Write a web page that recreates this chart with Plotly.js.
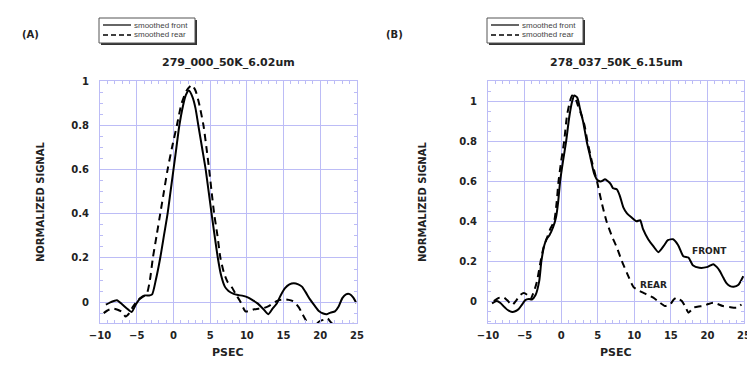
<!DOCTYPE html>
<html><head><meta charset="utf-8">
<script src="https://cdn.plot.ly/plotly-3.0.1.min.js"></script>
<style>html,body{margin:0;padding:0;background:#fff}#chart{width:747px;height:367px}</style>
</head><body><div id="chart"></div>
<script>
// Panel A: 279_000_50K_6.02um
const xA_front = [-9.2,-8.5,-7.7,-7.0,-6.3,-5.7,-5.1,-4.5,-3.9,-3.3,-2.9,-2.4,-1.8,-1.3,-0.8,-0.4,0,0.4,0.8,1.3,1.7,2.1,2.6,3.0,3.4,3.9,4.4,5.2,6.05,6.5,7.0,7.5,8.2,8.8,9.5,10.2,10.8,11.4,12.2,12.9,13.5,14.1,14.6,15.2,15.8,16.4,17.0,17.5,18.0,18.6,19.2,19.8,20.4,20.9,21.4,22.0,22.5,23.0,23.5,24.0,24.5,24.9];
const yA_front = [-0.012,0.0,0.008,-0.01,-0.03,-0.045,-0.01,0.018,0.03,0.03,0.035,0.1,0.2,0.3,0.4,0.5,0.6,0.7,0.8,0.89,0.94,0.96,0.93,0.88,0.8,0.7,0.6,0.4,0.2,0.12,0.07,0.05,0.037,0.032,0.028,0.02,0.008,-0.005,-0.03,-0.055,-0.03,-0.005,0.03,0.063,0.08,0.085,0.08,0.07,0.045,0.012,-0.015,-0.04,-0.052,-0.055,-0.048,-0.042,-0.02,0.018,0.035,0.036,0.02,-0.005];
const xA_rear = [-9.5,-8.8,-8.2,-7.6,-7.0,-6.5,-6.0,-5.5,-4.8,-4.1,-3.6,-3.2,-2.8,-2.3,-1.8,-1.3,-0.8,-0.2,0.46,1.1,1.8,2.5,3.0,3.5,4.1,4.5,4.87,5.2,5.55,6.0,6.4,6.9,7.4,8.0,8.5,9.1,9.8,10.4,10.9,11.6,12.3,12.9,13.6,14.1,14.6,15.2,15.7,16.2,16.6,17.1,17.5,18.0,18.5,19.0,19.5,19.9,20.5,21.0,21.4,22.0,23.0,24.0,24.8];
const yA_rear = [-0.05,-0.035,-0.03,-0.035,-0.045,-0.066,-0.05,-0.02,0.01,0.025,0.04,0.1,0.2,0.3,0.4,0.5,0.6,0.7,0.8,0.9,0.96,0.985,0.96,0.9,0.8,0.7,0.6,0.5,0.4,0.3,0.2,0.13,0.09,0.065,0.035,0.003,-0.042,-0.04,-0.034,-0.03,-0.027,-0.02,-0.005,0.005,0.01,0.012,0.01,0.005,-0.005,-0.025,-0.05,-0.08,-0.11,-0.12,-0.1,-0.087,-0.08,-0.075,-0.09,-0.11,-0.12,-0.11,-0.09];

// Panel B: 278_037_50K_6.15um
const xB_front = [-9.45,-8.8,-8.3,-7.9,-7.3,-6.7,-6.2,-5.8,-5.3,-4.9,-4.4,-4.0,-3.5,-3.0,-2.7,-2.3,-2.0,-1.6,-1.1,-0.7,-0.4,-0.14,0.25,0.68,1.1,1.5,1.8,2.2,2.6,3.0,3.5,4.0,4.5,5.0,5.5,6.0,6.4,6.8,7.1,7.6,8.0,8.5,9.0,9.6,10.3,10.8,11.2,11.9,12.6,13.3,14.0,14.6,15.3,16.0,16.7,17.4,18.0,18.9,19.9,20.8,21.3,21.7,22.2,22.6,23.1,23.6,24.2,24.9];
const yB_front = [-0.012,0.0,-0.01,-0.025,-0.045,-0.055,-0.05,-0.04,-0.015,0.005,0.01,0.008,0.03,0.1,0.2,0.28,0.31,0.33,0.37,0.42,0.5,0.6,0.7,0.8,0.92,1.0,1.03,1.02,0.96,0.9,0.8,0.72,0.64,0.605,0.6,0.61,0.6,0.585,0.565,0.56,0.53,0.47,0.44,0.42,0.4,0.405,0.36,0.31,0.275,0.245,0.275,0.305,0.31,0.28,0.225,0.218,0.18,0.167,0.17,0.185,0.17,0.15,0.115,0.09,0.075,0.072,0.08,0.125];
const xB_rear = [-9.2,-8.6,-7.9,-7.4,-6.7,-6.2,-5.6,-5.1,-4.6,-4.2,-3.7,-3.3,-2.8,-2.4,-2.0,-1.5,-0.95,-0.6,-0.36,0.0,0.41,0.8,1.2,1.5,1.9,2.3,2.8,3.2,3.6,4.2,4.9,5.5,6.2,7.0,7.6,8.3,9.0,9.6,9.9,10.5,11.2,11.9,12.6,13.4,14.2,14.9,15.4,15.8,16.2,16.5,17.0,17.4,17.8,18.1,18.8,19.4,20.1,20.8,21.4,22.1,23.0,24.0,24.65];
const yB_rear = [0.0,0.015,0.02,0.005,-0.02,0.0,0.03,0.04,0.03,0.01,0.05,0.1,0.2,0.27,0.31,0.36,0.4,0.5,0.6,0.7,0.8,0.93,1.0,1.03,1.02,0.98,0.93,0.88,0.8,0.7,0.6,0.5,0.4,0.32,0.27,0.2,0.14,0.09,0.07,0.055,0.042,0.03,0.017,-0.005,-0.025,-0.017,0.008,0.017,0.008,0.0,-0.03,-0.058,-0.045,-0.033,-0.027,-0.025,-0.015,-0.008,-0.015,-0.025,-0.03,-0.033,-0.017];

const titleA = '279_000_50K_6.02um';
const titleB = '278_037_50K_6.15um';
const seriesNames = ['smoothed front', 'smoothed rear'];
const xTickVals = [-10,-5,0,5,10,15,20,25];
const yTickVals = [0,0.2,0.4,0.6,0.8,1];
const yTickText = ['0','0.2','0.4','0.6','0.8','1'];

const W = 747, H = 367;
const px = v => v / W, py = v => 1 - v / H;
const FONT = 'DejaVu Sans';
const GRID = '#bcbcf6';

function line(dash){ return {color:'#000', width:2, dash:dash, shape:'spline', smoothing:0.6}; }
const traces = [
  {x:xA_front, y:yA_front, xaxis:'x', yaxis:'y', mode:'lines', name:seriesNames[0], line:line('solid'), showlegend:false, hoverinfo:'skip'},
  {x:xA_rear, y:yA_rear, xaxis:'x', yaxis:'y', mode:'lines', name:seriesNames[1], line:line('7px,5px'), showlegend:false, hoverinfo:'skip'},
  {x:xB_front, y:yB_front, xaxis:'x2', yaxis:'y2', mode:'lines', name:seriesNames[0], line:line('solid'), showlegend:false, hoverinfo:'skip'},
  {x:xB_rear, y:yB_rear, xaxis:'x2', yaxis:'y2', mode:'lines', name:seriesNames[1], line:line('7px,5px'), showlegend:false, hoverinfo:'skip'}
];

function xax(domain, anchor){
  return {domain:domain, anchor:anchor, range:[-10,25], tickvals:xTickVals, ticks:'inside', ticklen:5, tickcolor:GRID,
    showgrid:true, gridcolor:GRID, gridwidth:1, zeroline:false, showline:true, linecolor:GRID, linewidth:1, mirror:'allticks',
    minor:{dtick:1, ticks:'inside', ticklen:3, tickcolor:GRID, showgrid:false},
    ticklabeloverflow:'allow', ticklabelstandoff:3,
    tickfont:{family:FONT, size:10, color:'#222', weight:'bold'}, fixedrange:true};
}
function yax(domain, anchor, range){
  return {domain:domain, anchor:anchor, range:range, tickvals:yTickVals, ticktext:yTickText, ticks:'inside', ticklen:5, tickcolor:GRID,
    showgrid:true, gridcolor:GRID, gridwidth:1, zeroline:false, showline:true, linecolor:GRID, linewidth:1, mirror:'allticks',
    minor:{dtick:0.05, tick0:0, ticks:'inside', ticklen:3, tickcolor:GRID, showgrid:false},
    tickfont:{family:FONT, size:10, color:'#222', weight:'bold'}, ticklabelstandoff:8, fixedrange:true};
}

const yDom = [py(323), py(81)];
const layout = {
  width:W, height:H, margin:{l:0,r:0,t:0,b:0}, paper_bgcolor:'#fff', plot_bgcolor:'#fff',
  font:{family:FONT, color:'#222'},
  xaxis: xax([px(100), px(357)], 'y'),
  yaxis: yax(yDom, 'x', [-0.095, 1.003]),
  xaxis2: xax([px(488), px(744)], 'y2'),
  yaxis2: yax(yDom, 'x2', [-0.11, 1.103]),
  shapes: [], annotations: []
};

function legendBox(x0, y0){
  const x1 = x0 + 96, y1 = y0 + 25;
  layout.shapes.push({type:'rect', xref:'paper', yref:'paper', x0:px(x0+2), x1:px(x1+2), y0:py(y1+2), y1:py(y0+2), fillcolor:'#333', line:{width:0}});
  layout.shapes.push({type:'rect', xref:'paper', yref:'paper', x0:px(x0), x1:px(x1), y0:py(y1), y1:py(y0), fillcolor:'#fff', line:{color:'#555', width:1}});
  layout.shapes.push({type:'line', xref:'paper', yref:'paper', x0:px(x0+4), x1:px(x0+32), y0:py(y0+7), y1:py(y0+7), line:{color:'#000', width:1.2}});
  layout.shapes.push({type:'line', xref:'paper', yref:'paper', x0:px(x0+4), x1:px(x0+32), y0:py(y0+17), y1:py(y0+17), line:{color:'#000', width:1.6, dash:'5px,3px'}});
  layout.annotations.push({xref:'paper', yref:'paper', x:px(x0+33), y:py(y0+7), xanchor:'left', yanchor:'middle', text:seriesNames[0], showarrow:false, font:{family:'Liberation Sans', size:8, color:'#444'}});
  layout.annotations.push({xref:'paper', yref:'paper', x:px(x0+33), y:py(y0+17), xanchor:'left', yanchor:'middle', text:seriesNames[1], showarrow:false, font:{family:'Liberation Sans', size:8, color:'#444'}});
}
legendBox(99, 18);
legendBox(487, 18);

function txt(x, y, t, size, extra){
  layout.annotations.push(Object.assign({xref:'paper', yref:'paper', x:px(x), y:py(y), text:t, showarrow:false, xanchor:'center', yanchor:'middle', font:{family:FONT, size:size, color:'#222', weight:'bold'}}, extra||{}));
}
txt(30, 35, '(A)', 10);
txt(394, 35, '(B)', 10);
txt(228, 63, titleA, 11);
txt(616, 63, titleB, 11);
txt(40, 202, 'NORMALIZED SIGNAL', 10, {textangle:-90});
txt(422, 202, 'NORMALIZED SIGNAL', 10, {textangle:-90});
txt(228, 352, 'PSEC', 11);
txt(616, 352, 'PSEC', 11);
layout.annotations.push({xref:'x2', yref:'y2', x:20.3, y:0.25, text:'FRONT', showarrow:false, font:{family:FONT, size:9, color:'#222', weight:'bold'}});
layout.annotations.push({xref:'x2', yref:'y2', x:12.6, y:0.08, text:'REAR', showarrow:false, font:{family:FONT, size:9, color:'#222', weight:'bold'}});

Plotly.newPlot('chart', traces, layout, {displayModeBar:false, staticPlot:true});
</script></body></html>
